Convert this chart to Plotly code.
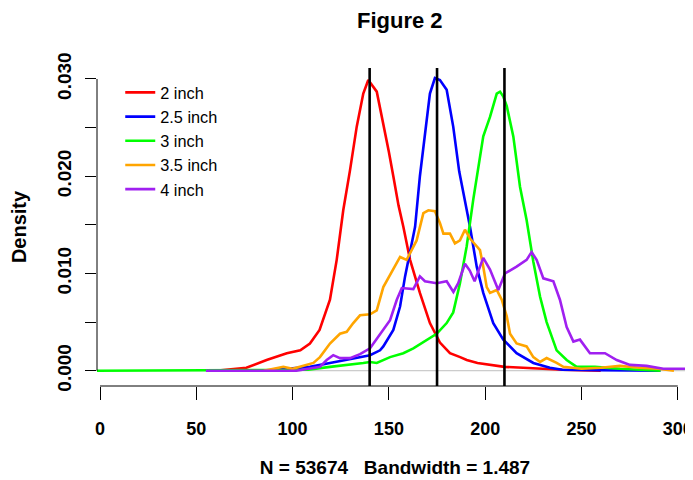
import plotly.graph_objects as go

# ---- data ----
series_names = ["2 inch", "2.5 inch", "3 inch", "3.5 inch", "4 inch"]
series_colors = ["#FF0000", "#0000FF", "#00FF00", "#FFA500", "#A020F0"]

x_2in = [60, 76, 86.5, 97, 104, 109, 114, 119.4, 122.9, 126.3, 129.8, 133.3, 136.7, 139.3,
         143.7, 147.5, 150, 152.3, 155, 157.5, 161, 166.1, 171.3, 176.5, 181.7, 187, 190.4,
         196, 202.5, 210, 219.7, 230, 240, 260]
y_2in = [0, 0.0003, 0.0011, 0.0018, 0.0021, 0.0028, 0.0042, 0.0073, 0.0114, 0.0165, 0.0206,
         0.0251, 0.0285, 0.0299, 0.0287, 0.0251, 0.0225, 0.0200, 0.0170, 0.0148, 0.0114,
         0.0080, 0.0049, 0.0029, 0.0018, 0.0014, 0.0011, 0.0008, 0.0006, 0.0004, 0.0003,
         0.0002, 0.0001, 0]

x_25in = [85, 98.6, 109, 119.4, 131.5, 140.2, 145.4, 147.1, 152.3, 155.8, 158.4, 161, 163.6,
          166.1, 168.7, 171.3, 173.9, 176.5, 180, 183.4, 186.5, 189.5, 192.1, 195.6, 199,
          204.2, 209.4, 216.3, 225, 233.6, 240, 260, 291]
y_25in = [0, 0.0002, 0.0004, 0.0008, 0.0013, 0.0016, 0.0021, 0.0025, 0.0042, 0.0066, 0.0097,
          0.0121, 0.0148, 0.0200, 0.0244, 0.0285, 0.0301, 0.0299, 0.0289, 0.0251, 0.0205,
          0.0176, 0.0148, 0.0107, 0.0080, 0.0049, 0.0032, 0.0018, 0.0008, 0.0003, 0.0001,
          0.00005, 0]

x_3in = [-5, 108, 119.4, 129.8, 136.7, 140.2, 143.7, 150.6, 157.5, 162.7, 169.6, 174.8, 180,
         183.4, 186.9, 190.4, 193.8, 196.4, 199, 202.5, 206, 207.7, 209.4, 211.2, 214.6,
         218.1, 221.5, 225, 228.5, 231.9, 237.1, 242.3, 247.5, 257, 270, 291]
y_3in = [0, 0.0001, 0.0004, 0.0006, 0.0008, 0.0009, 0.0008, 0.0014, 0.0018, 0.0023, 0.0032,
         0.0038, 0.0049, 0.0060, 0.0090, 0.0128, 0.0176, 0.0210, 0.0241, 0.0261, 0.0285,
         0.0287, 0.0282, 0.0272, 0.0241, 0.0189, 0.0155, 0.0112, 0.0076, 0.0050, 0.0021,
         0.0011, 0.0004, 0.0004, 0.0002, 0]

x_35in = [85, 95.2, 100, 110.8, 114.2, 119.4, 124.6, 128.1, 131.5, 135, 140.2, 143.7, 147.1,
          152.3, 155.8, 159.2, 164.4, 167.9, 170.5, 173.9, 176.5, 178.3, 181.7, 184.3, 186.9,
          189.5, 192.1, 195.6, 197.3, 199, 200.8, 202.5, 206, 208.6, 211.2, 212.9, 216.3,
          221.5, 225, 228.5, 231.9, 237.1, 240.6, 250, 260, 270, 280, 290, 298]
y_35in = [0, 0.0004, 0.0002, 0.0008, 0.0014, 0.0028, 0.0038, 0.0040, 0.0049, 0.0057, 0.0058,
          0.0062, 0.0086, 0.0104, 0.0117, 0.0114, 0.0134, 0.0162, 0.0165, 0.0164, 0.0152,
          0.0141, 0.0141, 0.0131, 0.0134, 0.0145, 0.0136, 0.0128, 0.0124, 0.0107, 0.0086,
          0.0080, 0.0083, 0.0073, 0.0056, 0.0038, 0.0028, 0.0025, 0.0014, 0.0009, 0.0013,
          0.0008, 0.0004, 0.0002, 0.0003, 0.0005, 0.0003, 0.0002, 0]

x_4in = [55, 102, 114.2, 117.7, 121.1, 124.6, 129.8, 135, 140.2, 145.4, 150.6, 154.1, 156.7,
         162.7, 166.1, 168.7, 174.8, 180, 183.5, 186, 189.5, 192, 194.5, 199, 202.5, 206.8,
         210.3, 216.3, 221.5, 224.1, 226.7, 230.2, 235.4, 238.8, 242.3, 245.8, 249.2, 254.4,
         262.2, 268.3, 275.2, 283.8, 292.5, 306, 315]
y_4in = [0, 0, 0.0004, 0.0011, 0.0016, 0.0013, 0.0013, 0.0017, 0.0023, 0.0038, 0.0052, 0.0073,
         0.0085, 0.0084, 0.0097, 0.0092, 0.0090, 0.0092, 0.0081, 0.0090, 0.0110, 0.0103,
         0.0092, 0.0116, 0.0104, 0.0083, 0.0100, 0.0107, 0.0114, 0.0122, 0.0114, 0.0095,
         0.0092, 0.0073, 0.0045, 0.0030, 0.0032, 0.0018, 0.0018, 0.0011, 0.0006, 0.0005,
         0.0002, 0.0002, 0.0001]

series_x = [x_2in, x_25in, x_3in, x_35in, x_4in]
series_y = [y_2in, y_25in, y_3in, y_35in, y_4in]

ref_lines = [140, 175, 210]

x_ticks = [0, 50, 100, 150, 200, 250, 300]
y_ticks = [0.0, 0.005, 0.010, 0.015, 0.020, 0.025, 0.030]
y_tick_text = ["0.000", "", "0.010", "", "0.020", "", "0.030"]

title_text = "Figure 2"
x_label = "N = 53674   Bandwidth = 1.487"
y_label = "Density"

FONT = "Arial, 'Liberation Sans', sans-serif"

fig = go.Figure()
for name, color, xs, ys in zip(series_names, series_colors, series_x, series_y):
    fig.add_trace(go.Scatter(x=xs, y=ys, mode="lines", name=name,
                             line=dict(color=color, width=2.6), legendgroup=name))

shapes = []
# zero line (gray)
shapes.append(dict(type="line", xref="paper", yref="y", x0=0, x1=1, y0=0, y1=0,
                   line=dict(color="#BEBEBE", width=1), layer="below"))
# vertical reference lines
for v in ref_lines:
    shapes.append(dict(type="line", xref="x", yref="paper", x0=v, x1=v, y0=0, y1=1,
                       line=dict(color="black", width=2.6), layer="above"))
# R-style axis lines spanning first to last tick
shapes.append(dict(type="line", xref="x", yref="paper", x0=x_ticks[0], x1=x_ticks[-1],
                   y0=0, y1=0, line=dict(color="black", width=1)))
shapes.append(dict(type="line", xref="paper", yref="y", x0=0, x1=0,
                   y0=y_ticks[0], y1=y_ticks[-1], line=dict(color="black", width=1)))

fig.update_layout(
    width=685, height=472,
    margin=dict(l=89, r=0, t=60, b=94, autoexpand=False),
    paper_bgcolor="white", plot_bgcolor="white",
    font=dict(family=FONT, color="black"),
    title=dict(text="<b>%s</b>" % title_text, x=0.508, xref="paper", xanchor="center",
               y=1 - 12 / 472, yref="container", yanchor="middle",
               font=dict(size=22, family=FONT, color="black")),
    shapes=shapes,
    showlegend=True,
    legend=dict(x=0.039, y=0.977, xanchor="left", yanchor="top",
                bgcolor="rgba(0,0,0,0)", borderwidth=0,
                font=dict(size=16.3, family=FONT, color="black"),
                traceorder="grouped", tracegroupgap=0, itemwidth=30),
    xaxis=dict(range=[-1.56, 307.9], tickmode="array", tickvals=x_ticks,
               ticktext=["<b>%d</b>" % t for t in x_ticks],
               ticks="outside", ticklen=13, tickwidth=1, tickcolor="black",
               showline=False, showgrid=False, zeroline=False, automargin=False,
               tickfont=dict(size=18, family=FONT, color="black"),
               ticklabelstandoff=13,
               title=dict(text="<b>%s</b>" % x_label, standoff=23,
                          font=dict(size=19, family=FONT, color="black"))),
    yaxis=dict(range=[-0.00157, 0.03113], tickmode="array", tickvals=y_ticks,
               ticktext=["<b>%s</b>" % t if t else "" for t in y_tick_text],
               ticks="outside", ticklen=11, tickwidth=1, tickcolor="black",
               tickangle=-90,
               showline=False, showgrid=False, zeroline=False, automargin=False,
               tickfont=dict(size=19, family=FONT, color="black"),
               ticklabelstandoff=6,
               title=dict(text="<b>%s</b>" % y_label, standoff=25,
                          font=dict(size=20, family=FONT, color="black"))),
)

fig.write_html("out.html")
